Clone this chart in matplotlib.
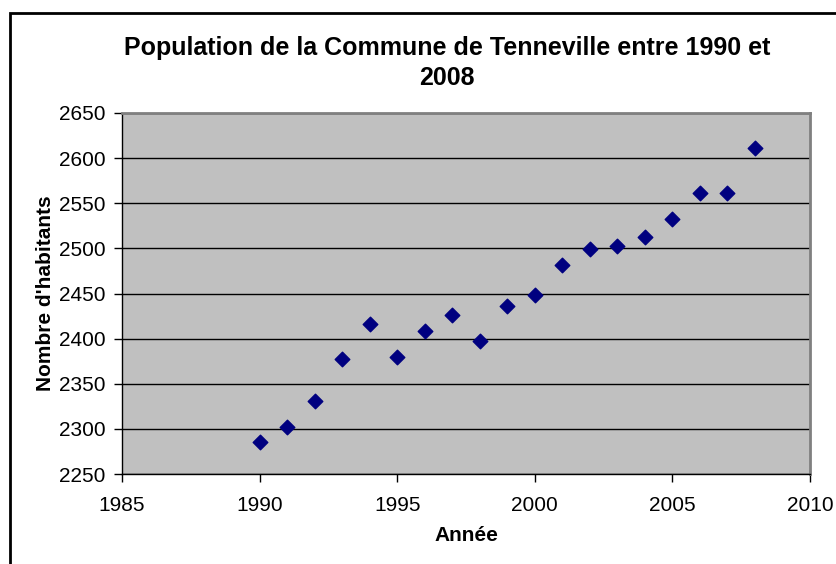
import matplotlib.pyplot as plt
from matplotlib.patches import Rectangle

plt.rcParams['font.family'] = ['Liberation Sans', 'DejaVu Sans']

# data
annees = [1990, 1991, 1992, 1993, 1994, 1995, 1996, 1997, 1998, 1999,
          2000, 2001, 2002, 2003, 2004, 2005, 2006, 2007, 2008]
habitants = [2285, 2302, 2331, 2377, 2416, 2380, 2408, 2426, 2397, 2436,
             2448, 2482, 2499, 2503, 2513, 2533, 2561, 2561, 2611]
x_ticks = [1985, 1990, 1995, 2000, 2005, 2010]
y_ticks = [2250, 2300, 2350, 2400, 2450, 2500, 2550, 2600, 2650]

W, H = 837, 564
fig = plt.figure(figsize=(W / 100, H / 100), dpi=100)

# outer chart frame (cropped at the right and bottom)
fig.patches.append(Rectangle((10 / W, -0.05), 1.0, 1 - 13 / H + 0.05,
                             transform=fig.transFigure, fill=False,
                             edgecolor='black', linewidth=2))

ax = fig.add_axes([122 / W, 1 - 474 / H, 688 / W, 361 / H])
ax.set_facecolor('#C0C0C0')
ax.scatter(annees, habitants, marker='D', s=55, color='#000080', zorder=3)

ax.set_xlim(1985, 2010)
ax.set_ylim(2250, 2650)
ax.set_xticks(x_ticks)
ax.set_yticks(y_ticks)
ax.yaxis.grid(True, color='black', linewidth=1)
ax.set_axisbelow(True)

for side in ['left', 'bottom']:
    ax.spines[side].set_color('black')
    ax.spines[side].set_linewidth(1)
for side in ['top', 'right']:
    ax.spines[side].set_color('#808080')
    ax.spines[side].set_linewidth(2)

ax.tick_params(axis='both', direction='out', length=6, width=1,
               labelsize=15, colors='black')
ax.tick_params(axis='x', pad=10)
ax.tick_params(axis='y', pad=6)

ax.set_xlabel('Année', fontsize=15, fontweight='bold', labelpad=8)
ax.set_ylabel("Nombre d'habitants", fontsize=15, fontweight='bold', labelpad=3)

fig.text(447 / W, 1 - 48 / H, 'Population de la Commune de Tenneville entre 1990 et',
         ha='center', va='center', fontsize=18, fontweight='bold')
fig.text(447 / W, 1 - 78 / H, '2008', ha='center', va='center',
         fontsize=18, fontweight='bold')

fig.savefig('out.png', dpi=100)
